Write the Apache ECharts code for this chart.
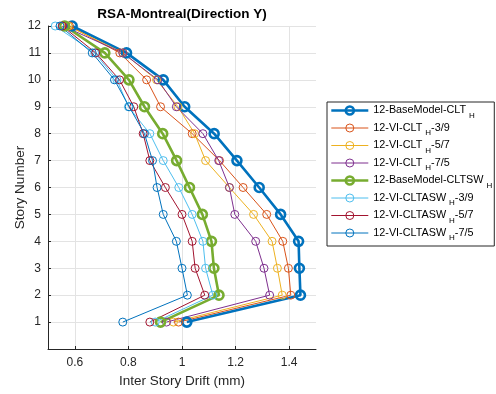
<!DOCTYPE html>
<html>
<head>
<meta charset="utf-8">
<script src="https://cdn.jsdelivr.net/npm/echarts@6/dist/echarts.min.js"></script>
<style>
  html, body { margin: 0; padding: 0; background: #fff; }
  #chart { width: 496px; height: 394px; }
</style>
</head>
<body>
<div id="chart"></div>
<script>
// Story levels (y) and inter-story drift values (x, mm) per model
const storyLevels = [1, 2, 3, 4, 5, 6, 7, 8, 9, 10, 11, 12];
const xTickValues = [0.6, 0.8, 1.0, 1.2, 1.4];

const seriesNames = [
  '12-BaseModel-CLT_H',
  '12-VI-CLT_H-3/9',
  '12-VI-CLT_H-5/7',
  '12-VI-CLT_H-7/5',
  '12-BaseModel-CLTSW_H',
  '12-VI-CLTASW_H-3/9',
  '12-VI-CLTASW_H-5/7',
  '12-VI-CLTASW_H-7/5'
];

const driftBaseCLT    = [1.018, 1.442, 1.438, 1.435, 1.368, 1.288, 1.205, 1.120, 1.010, 0.930, 0.793, 0.590];
const driftCLT39      = [0.987, 1.406, 1.397, 1.376, 1.316, 1.228, 1.140, 1.038, 0.920, 0.868, 0.768, 0.580];
const driftCLT57      = [0.968, 1.374, 1.356, 1.336, 1.267, 1.177, 1.088, 1.047, 0.985, 0.905, 0.780, 0.575];
const driftCLT75      = [0.942, 1.327, 1.306, 1.275, 1.197, 1.177, 1.137, 1.078, 0.979, 0.910, 0.779, 0.556];
const driftBaseCLTSW  = [0.920, 1.138, 1.119, 1.110, 1.076, 1.028, 0.980, 0.928, 0.860, 0.802, 0.712, 0.562];
const driftCLTASW39   = [0.900, 1.115, 1.088, 1.078, 1.038, 0.988, 0.930, 0.880, 0.800, 0.757, 0.674, 0.527];
const driftCLTASW57   = [0.880, 1.085, 1.049, 1.038, 1.000, 0.938, 0.880, 0.855, 0.820, 0.767, 0.678, 0.553];
const driftCLTASW75   = [0.779, 1.020, 1.000, 0.979, 0.930, 0.907, 0.890, 0.860, 0.803, 0.748, 0.665, 0.545];

const driftSets = [driftBaseCLT, driftCLT39, driftCLT57, driftCLT75,
                   driftBaseCLTSW, driftCLTASW39, driftCLTASW57, driftCLTASW75];

// Line styling: base models are drawn heavy, variants light
const lineColors = ['#0072BD', '#D95319', '#EDB120', '#7E2F8E',
                    '#77AC30', '#4DBEEE', '#A2142F', '#0072BD'];
const heavy = [true, false, false, false, true, false, false, false];

const FONT = '"Liberation Sans", Arial, Helvetica, sans-serif';
const INK = '#262626';

function makeSeries(i) {
  const w = heavy[i] ? 2.6 : 1;
  return {
    name: seriesNames[i],
    type: 'line',
    data: driftSets[i].map((x, k) => [x, storyLevels[k]]),
    color: lineColors[i],
    symbol: 'circle',
    symbolSize: heavy[i] ? 9 : 8,
    showSymbol: true,
    lineStyle: { color: lineColors[i], width: w },
    itemStyle: { color: 'rgba(255,255,255,0)', borderColor: lineColors[i], borderWidth: w },
    emphasis: { disabled: true },
    silent: true
  };
}

// Legend labels: "_H" is rendered as a subscript H
function legendLabel(name) {
  const parts = name.split('_H');
  return '{m|' + parts[0] + '}{sub|H}' + (parts[1] ? '{m|' + parts[1] + '}' : '');
}

const plainText = { fontFamily: FONT, color: '#000', fontWeight: 'normal', textBorderWidth: 0, textShadowBlur: 0 };

const chart = echarts.init(document.getElementById('chart'), null, { renderer: 'canvas' });

chart.setOption({
  animation: false,
  backgroundColor: '#fff',
  textStyle: { fontFamily: FONT },
  title: {
    text: 'RSA-Montreal(Direction Y)',
    left: 182,
    textAlign: 'center',
    top: 7,
    padding: 0,
    textStyle: { fontFamily: FONT, fontSize: 13.5, fontWeight: 'bold', color: '#000' }
  },
  grid: { left: 48, right: 180, top: 26, bottom: 45, outerBoundsMode: 'none', containLabel: false },
  xAxis: {
    type: 'value',
    min: 0.5,
    max: 1.5,
    name: 'Inter Story Drift (mm)',
    nameLocation: 'middle',
    nameGap: 25,
    nameMoveOverlap: false,
    nameTextStyle: { fontFamily: FONT, fontSize: 13.5, color: INK },
    axisLine: { show: true, onZero: false, lineStyle: { color: INK, width: 1 } },
    axisTick: { show: true, inside: true, length: 3, customValues: xTickValues, lineStyle: { color: INK } },
    axisLabel: {
      customValues: xTickValues,
      fontFamily: FONT, fontSize: 12, color: INK, margin: 8,
      formatter: v => String(Math.round(v * 10) / 10)
    },
    splitLine: { show: true, customValues: xTickValues, lineStyle: { color: '#e3e3e3', width: 1 } }
  },
  yAxis: {
    type: 'value',
    min: 0,
    max: 12,
    interval: 1,
    name: 'Story Number',
    nameLocation: 'middle',
    nameGap: 21,
    nameMoveOverlap: false,
    nameTextStyle: { fontFamily: FONT, fontSize: 13.5, color: INK },
    axisLine: { show: true, onZero: false, lineStyle: { color: INK, width: 1 } },
    axisTick: { show: true, inside: true, length: 3, lineStyle: { color: INK } },
    axisLabel: {
      fontFamily: FONT, fontSize: 12, color: INK, margin: 7,
      formatter: v => (v === 0 ? '' : String(v))
    },
    splitLine: { show: true, lineStyle: { color: '#e3e3e3', width: 1 } }
  },
  legend: {
    orient: 'vertical',
    left: 327,
    top: 102,
    padding: [3, 2, 4, 3],
    itemGap: 3,
    itemWidth: 37,
    itemHeight: 10,
    borderColor: INK,
    borderWidth: 1,
    borderRadius: 0,
    backgroundColor: '#fff',
    lineStyle: { width: 'inherit' },
    itemStyle: { borderWidth: 'inherit' },
    data: seriesNames,
    formatter: legendLabel,
    textStyle: Object.assign({}, plainText, {
      fontSize: 10.8,
      rich: {
        m: Object.assign({}, plainText, { fontSize: 10.8, lineHeight: 18 }),
        sub: Object.assign({}, plainText, { fontSize: 8, lineHeight: 8, verticalAlign: 'bottom', padding: [0, 0, 0, 3] })
      }
    }),
    selectedMode: false
  },
  series: seriesNames.map((_, i) => makeSeries(i))
});
</script>
</body>
</html>
